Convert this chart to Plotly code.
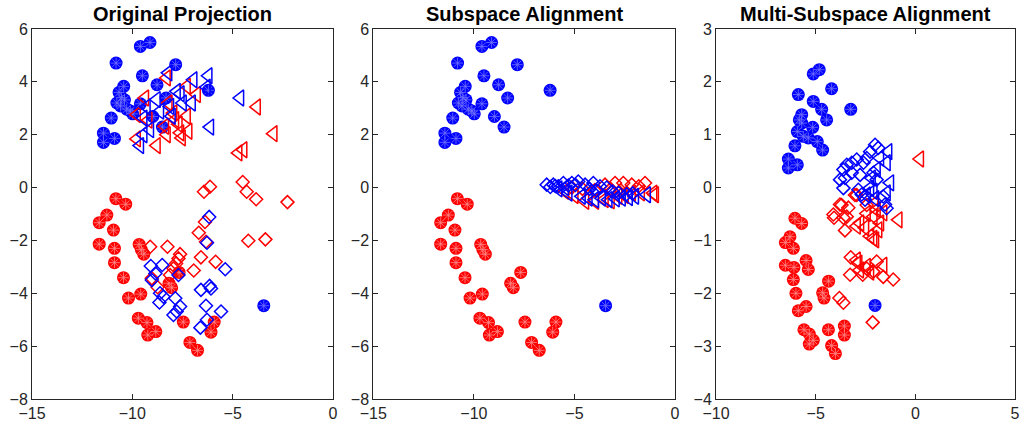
import plotly.graph_objects as go

# ---------------- Panel 1 / 2 shared source data ----------------
src_blue_x = [-9.12, -9.60, -10.81, -9.50, -7.84, -10.43, -10.66, -8.77, -8.32, -10.39, -10.77,
              -10.59, -10.28, -9.98, -9.60, -8.98, -8.50, -11.05, -11.44, -11.44, -10.89, -6.21,
              -10.55, -10.10, -3.45]
src_blue_y = [5.49, 5.34, 4.71, 4.23, 4.65, 3.83, 3.60, 3.89, 3.39, 3.32, 3.20,
              3.09, 2.97, 2.79, 3.17, 2.69, 2.29, 2.63, 2.06, 1.71, 1.86, 3.68,
              3.40, 2.90, -4.47]
src_red_x = [-10.82, -10.33, -11.27, -11.65, -10.94, -11.65, -10.89, -10.89, -9.66, -9.43,
             -10.44, -10.19, -9.58, -9.70, -9.27, -9.23, -8.83, -7.67, -8.17, -8.04,
             -7.46, -7.13, -6.75, -6.08, -5.92, -9.55]
src_red_y = [-0.42, -0.63, -1.04, -1.33, -1.61, -2.14, -2.30, -2.84, -2.15, -2.52,
             -3.41, -4.18, -4.03, -4.94, -5.11, -5.58, -5.45, -3.21, -3.62, -3.79,
             -5.09, -5.86, -6.16, -5.47, -5.09, -2.35]

# ---------------- Panel 1 target data ----------------
p1_red_tri_x = [-8.29, -7.29, -6.79, -9.37, -9.78, -7.96, -7.29, -7.87, -8.37, -7.62, -7.21,
                -7.54, -9.78, -8.79, -8.29, -3.80, -2.97, -4.47, -4.72, -8.20, -9.20, -7.70]
p1_red_tri_y = [4.15, 3.83, 3.52, 3.39, 2.76, 2.82, 2.70, 2.57, 2.32, 2.07, 2.13,
                1.88, 1.84, 1.59, 2.00, 3.05, 2.04, 1.43, 1.31, 3.20, 2.55, 2.40]
p1_blue_tri_x = [-8.21, -6.96, -6.21, -4.63, -6.13, -7.79, -8.79, -9.29, -8.62, -8.12, -7.49,
                 -7.04, -9.45, -9.12, -9.62, -9.45, -8.04, -6.30, -7.60]
p1_blue_tri_y = [4.34, 4.08, 4.23, 3.39, 2.29, 3.64, 3.33, 3.05, 2.89, 3.07, 3.20,
                 3.20, 2.63, 2.19, 1.59, 2.00, 2.70, 3.80, 3.55]
p1_red_dia_x = [-6.43, -6.13, -4.50, -4.30, -3.83, -2.27, -6.38, -6.69, -6.33, -4.22, -3.37,
                -9.11, -8.25, -7.62, -7.70, -7.82, -7.95, -6.58, -5.85, -6.94, -9.03, -8.12,
                -8.74]
p1_red_dia_y = [-0.16, 0.03, 0.21, -0.16, -0.44, -0.55, -1.30, -1.71, -2.05, -2.01, -1.96,
                -2.24, -2.24, -2.52, -2.68, -2.87, -3.06, -2.64, -2.81, -3.14, -3.43, -3.31,
                -3.77]
p1_blue_dia_x = [-6.17, -6.28, -9.08, -8.51, -8.85, -9.03, -8.62, -8.45, -8.65, -7.70, -7.86,
                 -7.62, -7.95, -7.79, -5.37, -6.58, -6.15, -6.08, -6.33, -5.58, -6.61, -6.28]
p1_blue_dia_y = [-1.11, -2.09, -2.97, -2.93, -3.25, -3.50, -4.00, -4.13, -4.35, -3.31, -4.19,
                 -4.50, -4.82, -4.69, -3.09, -3.87, -3.72, -3.82, -4.47, -4.69, -5.30, -5.00]

# ---------------- Panel 2 target data ----------------
p2_blue_dia_x = [-6.38, -6.05, -5.80, -5.55, -5.13, -4.81, -4.47, -4.06, -3.73, -3.39,
                 -6.20, -5.95, -5.30, -4.95, -4.25, -3.90, -3.10, -2.80, -2.40, -2.10]
p2_blue_dia_y = [0.11, 0.11, 0.05, 0.17, 0.17, 0.23, 0.11, 0.17, 0.05, 0.00,
                 0.02, 0.06, 0.08, 0.10, -0.05, -0.10, -0.15, -0.20, -0.25, -0.22]
p2_red_dia_x = [-3.48, -2.98, -2.57, -2.15, -1.49, -5.13, -4.60, -4.00, -3.20, -2.70, -1.80]
p2_red_dia_y = [0.11, 0.17, 0.17, 0.11, 0.17, 0.00, -0.05, -0.10, -0.05, -0.10, 0.05]
p2_blue_tri_x = [-5.30, -4.64, -3.98, -3.31, -2.65, -1.99, -1.40, -5.47, -3.64, -4.30,
                 -2.95, -2.30, -5.80]
p2_blue_tri_y = [-0.21, -0.33, -0.46, -0.46, -0.40, -0.33, -0.27, 0.00, -0.40, -0.40,
                 -0.43, -0.38, -0.05]
p2_red_tri_x = [-5.47, -4.47, -3.98, -2.82, -2.15, -1.08, -1.00, -3.50, -5.00, -2.50,
                -1.70, -3.20]
p2_red_tri_y = [-0.14, -0.52, -0.52, -0.33, -0.21, -0.21, -0.27, -0.45, -0.30, -0.30,
                -0.20, -0.50]

# ---------------- Panel 3 data ----------------
p3_blue_circ_x = [-4.82, -5.12, -4.20, -5.87, -5.12, -4.70, -3.24, -4.45, -5.70, -5.82, -5.15,
                  -5.92, -5.62, -5.37, -4.92, -4.65, -6.04, -6.37, -6.37, -5.92, -5.70, -2.02]
p3_blue_circ_y = [2.23, 2.15, 1.87, 1.76, 1.63, 1.48, 1.48, 1.28, 1.38, 1.28, 1.14,
                  1.06, 0.97, 0.94, 0.87, 0.71, 0.79, 0.54, 0.37, 0.43, 1.22, -2.23]
p3_red_circ_x = [-6.04, -5.70, -6.29, -6.52, -6.12, -6.52, -6.09, -5.48, -5.37, -6.12, -5.99,
                 -4.35, -4.65, -4.58, -5.87, -5.48, -5.59, -5.32, -5.32, -5.12, -4.36, -3.56,
                 -3.56, -4.20, -4.01]
p3_red_circ_y = [-0.58, -0.68, -0.93, -1.04, -1.15, -1.47, -1.51, -1.38, -1.55, -1.74, -2.00,
                 -1.77, -1.99, -2.09, -2.33, -2.25, -2.69, -2.77, -2.96, -2.89, -2.69, -2.62,
                 -2.79, -2.99, -3.14]
p3_red_dia_x = [-3.70, -4.08, -3.44, -3.53, -2.94, -3.24, -3.27, -2.64, -2.44, -1.94, -2.11,
                -1.61, -1.11, -3.81, -3.61, -2.14, -2.44, -4.11, -3.78, -3.36, -3.61, -3.03]
p3_red_dia_y = [-0.33, -0.57, -0.55, -0.81, -0.14, -1.32, -1.65, -1.65, -1.53, -1.40, -1.59,
                -1.69, -1.74, -2.09, -2.18, -2.55, -0.33, -0.51, -0.32, -0.38, -0.57, -0.14]
p3_red_tri_x = [0.23, -0.85, -2.11, -2.94, -1.61, -2.78, -2.44, -2.10, -1.94, -2.77, -2.52,
                -2.27, -2.02, -1.77, -1.86, -2.94, -1.61, -2.86, -2.44, -2.27, -2.05]
p3_red_tri_y = [0.54, -0.61, -0.96, -1.37, -1.47, -1.56, -0.49, -0.55, -0.42, -0.67, -0.76,
                -0.92, -0.99, -0.67, -0.80, -0.73, -0.48, -1.43, -1.49, -1.60, -0.30]
p3_blue_dia_x = [-2.02, -1.86, -2.27, -2.44, -2.60, -2.94, -3.19, -3.44, -3.61, -3.53, -3.78,
                 -3.61, -3.19, -2.77, -2.86, -2.69, -2.52, -1.52, -1.44, -2.10, -1.94, -1.61]
p3_blue_dia_y = [0.81, 0.75, 0.68, 0.56, 0.47, 0.53, 0.47, 0.43, 0.34, 0.18, 0.15,
                 -0.01, 0.28, 0.24, -0.04, -0.13, -0.23, -0.32, -0.39, 0.28, 0.15, -0.17]
p3_blue_tri_x = [-1.36, -1.44, -1.27, -1.44, -2.19, -2.27, -2.10, -2.44, -1.94, -1.77, -2.02]
p3_blue_tri_y = [0.68, 0.47, 0.09, -0.10, 0.18, -0.01, -0.07, -0.14, 0.34, 0.56, -0.21]

# ---------------- Axis settings ----------------
titles = ["Original Projection", "Subspace Alignment", "Multi-Subspace Alignment"]
x_ranges = [[-15, 0], [-15, 0], [-10, 5]]
y_ranges = [[-8, 6], [-8, 6], [-4, 3]]
y_dticks = [2, 2, 1]
W, H = 1025, 425
ML, MR, MT, MB = 32, 10, 29, 26
PW, PH = W - ML - MR, H - MT - MB
x_px = [(32, 333), (373.3, 675), (716, 1015)]

BLUE = "#0000FF"
RED = "#FF0000"
BLUE_L = "#7373FF"
RED_L = "#FF8C8C"

fig = go.Figure()


def add_circles(xs, ys, color, light, ax):
    xa = "x" if ax == 1 else f"x{ax}"
    ya = "y" if ax == 1 else f"y{ax}"
    fig.add_trace(go.Scatter(x=xs, y=ys, mode="markers", xaxis=xa, yaxis=ya,
                             marker=dict(symbol="circle", size=13, color=color,
                                         line=dict(width=0)),
                             showlegend=False, hoverinfo="skip"))
    fig.add_trace(go.Scatter(x=xs, y=ys, mode="markers", xaxis=xa, yaxis=ya,
                             marker=dict(symbol="asterisk-open", size=9, color=light,
                                         line=dict(width=0.8, color=light)),
                             showlegend=False, hoverinfo="skip"))


def add_open(xs, ys, color, symbol, ax, size=14):
    xa = "x" if ax == 1 else f"x{ax}"
    ya = "y" if ax == 1 else f"y{ax}"
    fig.add_trace(go.Scatter(x=xs, y=ys, mode="markers", xaxis=xa, yaxis=ya,
                             marker=dict(symbol=symbol, size=size, color=color,
                                         line=dict(width=1.5, color=color)),
                             showlegend=False, hoverinfo="skip"))


DSZ = 10
# Panel 1
add_circles(src_red_x, src_red_y, RED, RED_L, 1)
add_circles(src_blue_x, src_blue_y, BLUE, BLUE_L, 1)
add_open(p1_red_tri_x, p1_red_tri_y, RED, "triangle-left-open", 1)
add_open(p1_blue_tri_x, p1_blue_tri_y, BLUE, "triangle-left-open", 1)
add_open(p1_red_dia_x, p1_red_dia_y, RED, "diamond-open", 1, DSZ)
add_open(p1_blue_dia_x, p1_blue_dia_y, BLUE, "diamond-open", 1, DSZ)

# Panel 2
add_circles(src_red_x, src_red_y, RED, RED_L, 2)
add_circles(src_blue_x, src_blue_y, BLUE, BLUE_L, 2)
add_open(p2_red_dia_x, p2_red_dia_y, RED, "diamond-open", 2, DSZ)
add_open(p2_red_tri_x, p2_red_tri_y, RED, "triangle-left-open", 2)
add_open(p2_blue_tri_x, p2_blue_tri_y, BLUE, "triangle-left-open", 2)
add_open(p2_blue_dia_x, p2_blue_dia_y, BLUE, "diamond-open", 2, DSZ)

# Panel 3
add_circles(p3_red_circ_x, p3_red_circ_y, RED, RED_L, 3)
add_open(p3_red_dia_x, p3_red_dia_y, RED, "diamond-open", 3, DSZ)
add_open(p3_red_tri_x, p3_red_tri_y, RED, "triangle-left-open", 3)
add_open(p3_blue_dia_x, p3_blue_dia_y, BLUE, "diamond-open", 3, DSZ)
add_open(p3_blue_tri_x, p3_blue_tri_y, BLUE, "triangle-left-open", 3)
add_circles(p3_blue_circ_x, p3_blue_circ_y, BLUE, BLUE_L, 3)

AXCOL = "#262626"
FONT = "Liberation Sans, Arial, Helvetica, sans-serif"
layout = dict(width=W, height=H, margin=dict(l=ML, r=MR, t=MT, b=MB, autoexpand=False),
              plot_bgcolor="white", paper_bgcolor="white",
              font=dict(family=FONT, size=16, color=AXCOL),
              annotations=[])
for i in range(3):
    k = "" if i == 0 else str(i + 1)
    x0, x1 = x_px[i]
    common = dict(showline=True, linecolor=AXCOL, linewidth=1, mirror="ticks",
                  ticks="inside", ticklen=5, tickwidth=1, tickcolor=AXCOL,
                  showgrid=False, zeroline=False, automargin=False,
                  tickfont=dict(size=16, color=AXCOL, family=FONT))
    layout["xaxis" + k] = dict(domain=[(x0 - ML) / PW, min(1.0, (x1 - ML) / PW)],
                               range=x_ranges[i], dtick=5, tick0=0, anchor="y" + k, **common)
    layout["yaxis" + k] = dict(domain=[0, 1], range=y_ranges[i],
                               dtick=y_dticks[i], tick0=0, anchor="x" + k, **common)
    layout["annotations"].append(dict(text="<b>" + titles[i] + "</b>", xref="paper",
                                      yref="paper", x=((x0 + x1) / 2 - ML) / PW,
                                      y=1 + (MT - 14) / PH,
                                      xanchor="center", yanchor="middle", showarrow=False,
                                      font=dict(size=20, color="black", family=FONT)))
fig.update_layout(**layout)
fig.write_html("out.html", config={"displayModeBar": False},
               post_script="document.body.style.margin='0';")
